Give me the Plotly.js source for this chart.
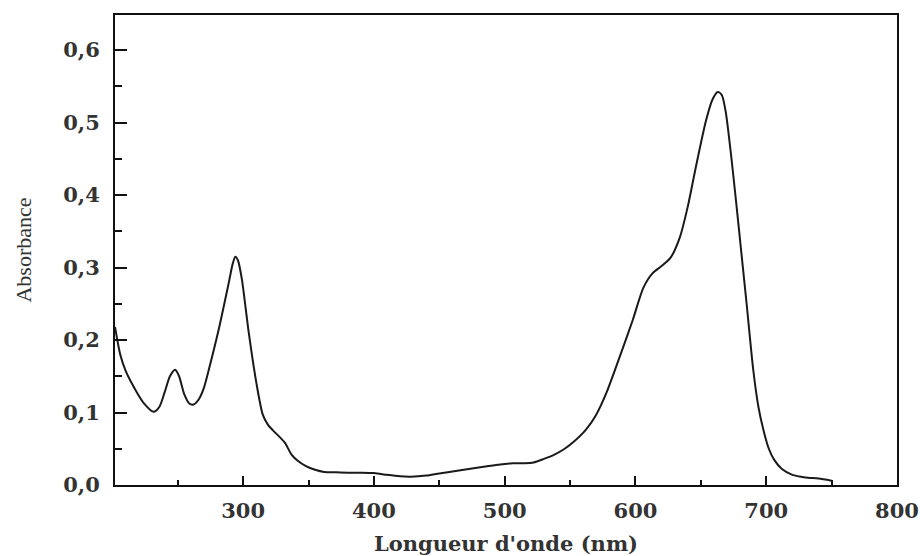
<!DOCTYPE html>
<html>
<head>
<meta charset="utf-8">
<script src="https://cdn.plot.ly/plotly-3.0.1.min.js"></script>
<style>
html,body{margin:0;padding:0;background:#fff;}
#chart{width:920px;height:556px;}
</style>
</head>
<body>
<div id="chart"></div>
<script>
const wavelength = [202, 206, 210, 214, 218, 224, 231.5, 236, 240, 244, 248, 251, 255, 259, 262, 266, 270, 275, 282, 289, 292, 294, 296, 299, 304, 310, 315, 319, 323, 328, 332, 337, 342, 348, 355, 362, 370, 380, 390, 400, 410, 420, 428, 440, 450, 465, 480, 495, 506, 515, 522, 530, 538, 545, 553, 562, 570, 578, 588, 598, 606, 613, 620, 627, 634, 640, 646, 654, 659, 663, 666, 669, 673, 677, 681, 685, 690, 694, 698, 702, 706, 712, 720, 730, 740, 750];
const absorbance = [0.218, 0.18, 0.158, 0.143, 0.13, 0.113, 0.101, 0.108, 0.128, 0.150, 0.159, 0.150, 0.125, 0.112, 0.111, 0.118, 0.134, 0.168, 0.220, 0.279, 0.305, 0.315, 0.31, 0.284, 0.214, 0.142, 0.097, 0.083, 0.075, 0.066, 0.058, 0.042, 0.033, 0.026, 0.021, 0.018, 0.0175, 0.017, 0.017, 0.0165, 0.014, 0.012, 0.0115, 0.013, 0.016, 0.020, 0.024, 0.028, 0.030, 0.030, 0.031, 0.036, 0.042, 0.049, 0.06, 0.076, 0.097, 0.128, 0.177, 0.228, 0.272, 0.292, 0.302, 0.314, 0.342, 0.384, 0.437, 0.503, 0.532, 0.542, 0.538, 0.515, 0.457, 0.39, 0.32, 0.25, 0.16, 0.108, 0.075, 0.05, 0.035, 0.022, 0.014, 0.0105, 0.009, 0.006];
const xTitle = "Longueur d'onde (nm)";
const yTitle = "Absorbance";

const trace = {
  x: wavelength,
  y: absorbance,
  type: 'scatter',
  mode: 'lines',
  line: {color: '#1a1a1a', width: 2, shape: 'spline', smoothing: 0.7},
  hoverinfo: 'skip'
};

const tickFont = {family: 'DejaVu Serif', size: 21, color: '#333', weight: 'bold'};

const layout = {
  width: 920, height: 556,
  margin: {l: 115, r: 23, t: 15, b: 71},
  paper_bgcolor: '#fff', plot_bgcolor: '#fff',
  showlegend: false,
  separators: ', ',
  xaxis: {
    range: [202, 800],
    tick0: 300, dtick: 100,
    ticks: 'inside', ticklen: 9, tickwidth: 2, tickcolor: '#111',
    minor: {dtick: 50, tick0: 250, ticks: 'inside', ticklen: 5, tickwidth: 2, tickcolor: '#111', showgrid: false},
    showline: true, linecolor: '#111', linewidth: 2, mirror: true,
    showgrid: false, zeroline: false,
    tickfont: tickFont,
    ticklabelstandoff: 6,
    title: {text: xTitle, font: {family: 'DejaVu Serif', size: 21, color: '#333', weight: 'bold'}, standoff: 14},
    automargin: false
  },
  yaxis: {
    range: [0, 0.6483],
    tick0: 0, dtick: 0.1, tickformat: '.1f',
    ticks: 'inside', ticklen: 12, tickwidth: 2, tickcolor: '#111',
    minor: {dtick: 0.05, tick0: 0.05, ticks: 'inside', ticklen: 7, tickwidth: 2, tickcolor: '#111', showgrid: false},
    showline: true, linecolor: '#111', linewidth: 2, mirror: true,
    showgrid: false, zeroline: false,
    tickfont: tickFont,
    ticklabelstandoff: 9,
    title: {text: yTitle, font: {family: 'Liberation Serif', size: 22, color: '#333'}, standoff: 26},
    automargin: false
  }
};

Plotly.newPlot('chart', [trace], layout, {displayModeBar: false, staticPlot: true});
</script>
</body>
</html>
